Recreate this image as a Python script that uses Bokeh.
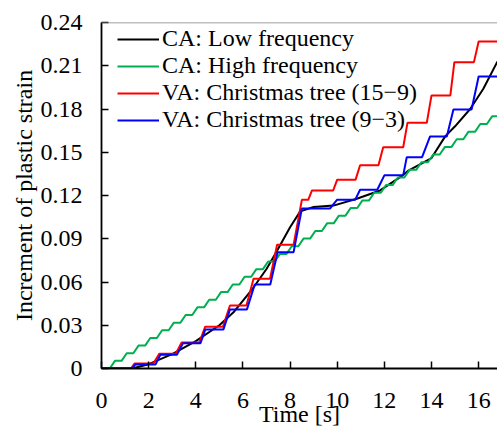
from bokeh.plotting import figure
from bokeh.models import Legend, LegendItem, FixedTicker, Span, Range1d
from bokeh.embed import file_html
from bokeh.resources import INLINE

# ---------------- data ----------------
x_ticks = [0, 2, 4, 6, 8, 10, 12, 14, 16]
y_ticks = [0, 0.03, 0.06, 0.09, 0.12, 0.15, 0.18, 0.21, 0.24]
y_tick_labels = ["0", "0.03", "0.06", "0.09", "0.12", "0.15", "0.18", "0.21", "0.24"]
x_title = "Time [s]"
y_title = "Increment of plastic strain"

series_names = ["CA: Low frequency", "CA: High frequency",
                "VA: Christmas tree (15\u22129)", "VA: Christmas tree (9\u22123)"]

# CA: Low frequency (smooth curve)
black_x = [0, 1.3, 2.0, 3.0, 4.0, 5.0, 5.6, 6.44, 7.0, 7.46, 8.0, 8.43, 9.0, 9.84,
           10.83, 11.82, 12.67, 13.0, 14.0, 14.58, 15.0, 15.64, 16.2, 16.8]
black_y = [0, 0, 0.003, 0.010, 0.019, 0.030, 0.039, 0.056, 0.069, 0.082, 0.098, 0.109,
           0.112, 0.113, 0.1177, 0.1235, 0.1327, 0.137, 0.146, 0.161, 0.168, 0.180,
           0.194, 0.213]

# CA: High frequency (small steps): step start times and levels after each step
green_t0 = [0.35, 0.85, 1.35, 1.85, 2.35, 2.85, 3.35, 3.85, 4.35, 4.85, 5.35, 5.85,
            6.35, 6.85, 7.35, 7.85, 8.35, 8.85, 9.35, 9.85, 10.35, 10.85, 11.35, 11.85,
            12.35, 12.85, 13.35, 13.85, 14.35, 14.85, 15.35, 15.85, 16.35]
green_lv = [0.0053, 0.0106, 0.0159, 0.0212, 0.0265, 0.0318, 0.0371, 0.0424, 0.0477,
            0.0530, 0.0583, 0.0636, 0.0689, 0.0742, 0.0795, 0.0848, 0.0901, 0.0954,
            0.1007, 0.1060, 0.1113, 0.1166, 0.1219, 0.1272, 0.1325, 0.1378, 0.1431,
            0.1484, 0.1537, 0.1590, 0.1643, 0.1696, 0.1749]

# VA: Christmas tree (15-9): rise start, rise end, level after the rise
red_t0 = [1.25, 2.2, 3.15, 4.15, 5.15, 6.15, 7.15, 8.15, 8.77, 9.83, 10.78, 11.75,
          12.8, 13.8, 14.8, 15.8]
red_t1 = [1.4, 2.45, 3.4, 4.4, 5.45, 6.45, 7.45, 8.5, 8.93, 10.0, 10.97, 11.95,
          12.98, 14.0, 14.97, 16.0]
red_lv = [0.0035, 0.0102, 0.018, 0.029, 0.0437, 0.0622, 0.0858, 0.117, 0.1235, 0.131,
          0.141, 0.1535, 0.1704, 0.1894, 0.2125, 0.2268]

# VA: Christmas tree (9-3)
blue_t0 = [1.3, 2.29, 3.2, 4.2, 5.17, 6.17, 7.16, 8.15, 9.7, 10.76, 11.7, 12.8, 13.6,
           14.65, 15.7]
blue_t1 = [1.44, 2.5, 3.46, 4.4, 5.45, 6.5, 7.47, 8.5, 9.99, 10.97, 12.0, 12.95, 13.94,
           14.93, 16.0]
blue_lv = [0.0028, 0.0095, 0.0176, 0.027, 0.041, 0.0583, 0.0807, 0.111, 0.117, 0.124,
           0.134, 0.1466, 0.161, 0.1797, 0.2025]

X_MAX = 16.8
Y_MAX = 0.24
GREEN_RISE = 0.22


def staircase(t0, t1, lv, x_end):
    xs, ys = [0.0], [0.0]
    prev = 0.0
    for a, b, v in zip(t0, t1, lv):
        xs += [a, b]
        ys += [prev, v]
        prev = v
    xs.append(x_end)
    ys.append(prev)
    return xs, ys


FONT = "Liberation Serif"
FS = "24px"

p = figure(width=497, height=430, output_backend="svg", toolbar_location=None,
           x_range=Range1d(0, X_MAX), y_range=Range1d(0, Y_MAX),
           min_border_left=101, min_border_right=0, min_border_top=22,
           min_border_bottom=62)
p.background_fill_color = "white"
p.border_fill_color = "white"
p.outline_line_color = None
p.xgrid.visible = False
p.ygrid.visible = False

gx, gy = staircase(green_t0, [t + GREEN_RISE for t in green_t0], green_lv, X_MAX)
rx, ry = staircase(red_t0, red_t1, red_lv, X_MAX)
bx, by = staircase(blue_t0, blue_t1, blue_lv, X_MAX)

r_black = p.line(black_x, black_y, line_color="black", line_width=2)
r_green = p.line(gx, gy, line_color="#00b050", line_width=2, line_join="round")
r_red = p.line(rx, ry, line_color="#ff0000", line_width=2)
r_blue = p.line(bx, by, line_color="#0000ff", line_width=2)

top = Span(location=Y_MAX, dimension="width", line_color="#808080", line_width=1.5)
p.add_layout(top)

for ax in (p.xaxis[0], p.yaxis[0]):
    ax.axis_line_color = "black"
    ax.axis_line_width = 1.8
    ax.major_tick_line_color = "black"
    ax.major_tick_line_width = 1.5
    ax.major_tick_in = 7
    ax.major_tick_out = 0
    ax.minor_tick_line_color = None
    ax.major_label_text_font = FONT
    ax.major_label_text_font_size = FS
    ax.major_label_text_color = "black"
    ax.axis_label_text_font = FONT
    ax.axis_label_text_font_size = FS
    ax.axis_label_text_font_style = "normal"
    ax.axis_label_text_color = "black"

p.xaxis.ticker = FixedTicker(ticks=x_ticks)
p.yaxis.ticker = FixedTicker(ticks=y_ticks)
p.yaxis.major_label_overrides = {t: s for t, s in zip(y_ticks, y_tick_labels)}
p.xaxis.major_label_overrides = {t: str(t) for t in x_ticks}
p.xaxis.axis_label = x_title
p.yaxis.axis_label = y_title
p.yaxis.major_label_standoff = 19
p.yaxis.axis_label_standoff = 1
p.xaxis.major_label_standoff = 24
p.xaxis.axis_label_standoff = -10

legend = Legend(
    items=[LegendItem(label=n, renderers=[r]) for n, r in
           zip(series_names, [r_black, r_green, r_red, r_blue])],
    location=(16, 235), padding=0, margin=0, spacing=-1,
    glyph_width=42, glyph_height=20, label_standoff=3,
    label_text_font=FONT, label_text_font_size=FS, label_text_color="black",
    background_fill_alpha=0, border_line_alpha=0,
)
p.add_layout(legend)

open("out.html", "w").write(file_html(p, INLINE))
